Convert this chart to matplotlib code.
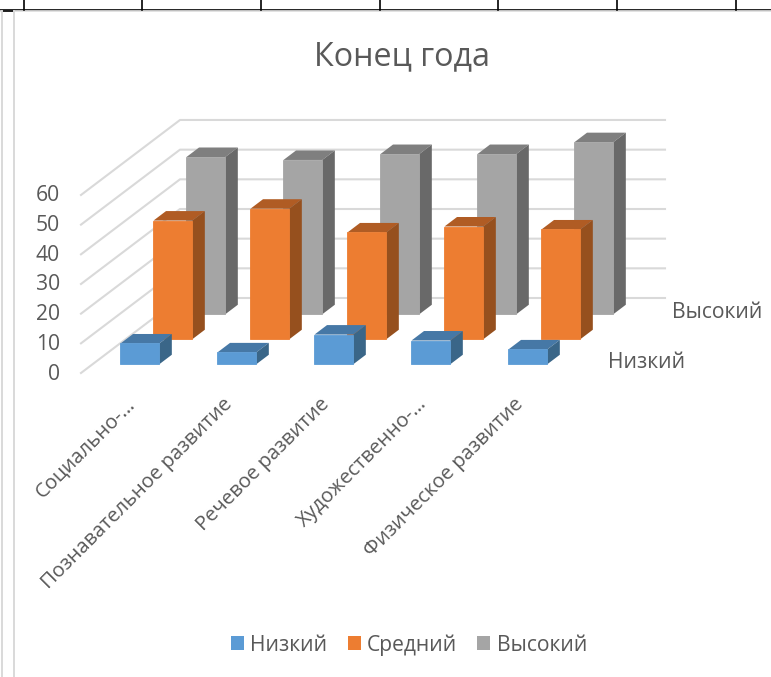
import matplotlib.pyplot as plt
from matplotlib.patches import Patch, Polygon

plt.rcParams['font.family'] = ['Open Sans', 'DejaVu Sans']

categories = ['Социально-…', 'Познавательное развитие', 'Речевое развитие',
              'Художественно-…', 'Физическое развитие']
low = [7, 4, 10, 8, 5]
mid = [40, 44, 36, 38, 37]
high = [53, 52, 54, 54, 58]
value_ticks = [0, 10, 20, 30, 40, 50, 60]
table_ticks = [24, 142, 261, 380, 498, 617, 736]

TEXT = '#595959'
GRID = '#D9D9D9'
# front, top, side
BLUE = ('#5B9BD5', '#4678A6', '#3A6688')
ORANGE = ('#ED7D31', '#B05C24', '#96501E')
GREY = ('#A5A5A5', '#7F7F7F', '#696969')

# oblique projection of the 3d plot box, in pixels
X0, Y0 = 81, 373
CAT_W = 97
VAL_H = 2.967
ROW_DX, ROW_DY = 33.0, -25.0


def proj(cat, val, depth):
    return (X0 + cat * CAT_W + depth * ROW_DX,
            Y0 - val * VAL_H + depth * ROW_DY)


def draw_bar(ax, i, val, row, cols, z):
    x1, x2 = i + 0.288, i + 0.688
    d1, d2 = row + 0.35, row + 0.73
    front = [proj(x1, 0, d1), proj(x2, 0, d1), proj(x2, val, d1), proj(x1, val, d1)]
    top = [proj(x1, val, d1), proj(x2, val, d1), proj(x2, val, d2), proj(x1, val, d2)]
    side = [proj(x2, 0, d1), proj(x2, 0, d2), proj(x2, val, d2), proj(x2, val, d1)]
    ax.add_patch(Polygon(top, fc=cols[1], ec='none', zorder=z))
    ax.add_patch(Polygon(side, fc=cols[2], ec='none', zorder=z))
    ax.add_patch(Polygon(front, fc=cols[0], ec=cols[0], lw=0.6, zorder=z + 0.1))


fig = plt.figure(figsize=(7.71, 6.77), dpi=100)
ax = fig.add_axes([0, 0, 1, 1])
ax.set_xlim(0, 771)
ax.set_ylim(677, 0)
ax.axis('off')

# bits of the surrounding document
ax.plot([0, 771], [9.5, 9.5], color='black', lw=1.2, zorder=1)
ax.plot([0, 771], [11, 11], color='#DDDDDD', lw=1.2, zorder=1)
for x in table_ticks:
    ax.plot([x, x], [0, 9.5], color='black', lw=1.2, zorder=1)
ax.plot([3, 13], [10.5, 10.5], color='black', lw=1.2, zorder=1)
for x in [2, 13.5]:
    ax.plot([x, x], [11, 677], color=GRID, lw=1.4, zorder=1)

# gridlines: front-left edge, back wall
for v in value_ticks:
    pts = [proj(0, v, 0), proj(0, v, 3), proj(5, v, 3)]
    ax.plot([p[0] for p in pts], [p[1] for p in pts], color=GRID, lw=1.5, zorder=2)
    x, y = proj(0, v, 0)
    ax.text(x - 21, y + 1, str(v), color=TEXT, fontsize=15.2, ha='right', va='center')

# back row first so nearer bars cover it
for row, (vals, cols) in reversed(list(enumerate([(low, BLUE), (mid, ORANGE), (high, GREY)]))):
    for i, v in enumerate(vals):
        draw_bar(ax, i, v, row, cols, 5 + (2 - row) * 2)

for i, name in enumerate(categories):
    x, y = proj(i + 0.5, 0, 0)
    ax.text(x + 3, y + 28, name, color=TEXT, fontsize=14.6, rotation=45,
            rotation_mode='anchor', ha='right', va='center')

x, y = proj(5, 0, 0.5)
ax.text(x + 26, y + 2, 'Низкий', color=TEXT, fontsize=15.2, ha='left', va='center')
x, y = proj(5, 0, 2.5)
ax.text(x + 23, y + 2, 'Высокий', color=TEXT, fontsize=15.2, ha='left', va='center')

ax.text(402, 57, 'Конец года', color=TEXT, fontsize=23.3, ha='center', va='center')

handles = [Patch(fc=BLUE[0], label='Низкий'), Patch(fc=ORANGE[0], label='Средний'),
           Patch(fc=GREY[0], label='Высокий')]
ax.legend(handles=handles, loc='center', bbox_to_anchor=(409, 645),
          bbox_transform=ax.transData, ncol=3, frameon=False, fontsize=15.2,
          labelcolor=TEXT, handlelength=0.62, handleheight=0.62,
          handletextpad=0.3, columnspacing=0.95)

fig.savefig('out.png', dpi=100)
